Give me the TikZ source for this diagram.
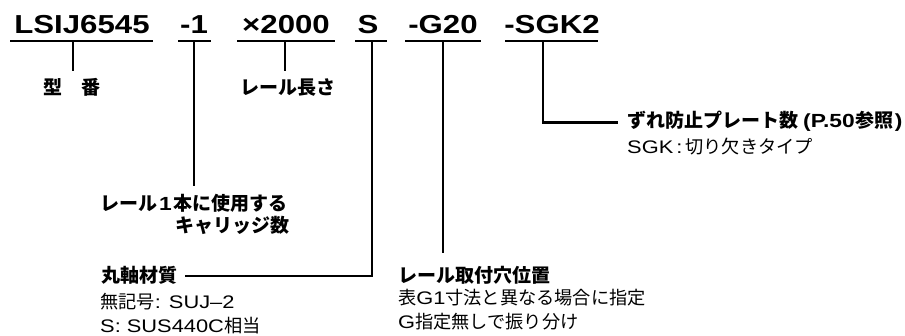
\documentclass[tikz,border=0pt]{standalone}
\usepackage{fontspec}
\setmainfont{Liberation Sans}
\newfontfamily\topfont[FakeStretch=1.2]{Liberation Sans Bold}
\newfontfamily\wide[FakeStretch=1.2]{Liberation Sans}
\newfontfamily\jp{Noto Sans CJK JP}
\newcommand{\wl}[1]{{\wide #1}}
\begin{document}
\begin{tikzpicture}[x=1pt,y=-1pt,
  code/.style={inner sep=0pt,anchor=base,font=\topfont\fontsize{26}{26}\selectfont},
  head/.style={inner sep=0pt,font=\jp\bfseries\fontsize{19}{19}\selectfont},
  desc/.style={inner sep=0pt,font=\jp\fontsize{18.2}{18.2}\selectfont},
  lead/.style={line width=2.6pt,line cap=butt},
  uline/.style={line width=2.6pt}]
\useasboundingbox (0,0) rectangle (905,336);
% top code
\node[code] (c1) at (82,34) {LSIJ6545};
\node[code] (c2) at (194,34) {-1};
\node[code] (c3) at (286,34) {×2000};
\node[code] (c4) at (368,34) {S};
\node[code] (c5) at (443,34) {-G20};
\node[code] (c6) at (552,34) {-SGK2};
% underlines
\coordinate (u1a) at (10,41); \coordinate (u1b) at (153,41);
\coordinate (u2a) at (178,41); \coordinate (u2b) at (211,41);
\coordinate (u3a) at (237,41); \coordinate (u3b) at (335,41);
\coordinate (u4a) at (355,41); \coordinate (u4b) at (387,41);
\coordinate (u5a) at (405,41); \coordinate (u5b) at (481,41);
\coordinate (u6a) at (505,41); \coordinate (u6b) at (598,41);
\foreach \i in {1,...,6} {\draw[uline] (u\i a) -- (u\i b);}
% labels
\node[head,anchor=base west] (l1) at (43,95) {型　番};
\node[head,anchor=base west] (l3) at (240,95) {レール長さ};
\node[head,anchor=base west] (l2a) at (100,211) {レール\kern2pt\wl{1}\kern2pt 本に使用する};
\node[head,anchor=base east] (l2b) at (290,233) {キャリッジ数};
\node[head,anchor=base west] (l4) at (101,283) {丸軸材質};
\node[desc,anchor=base west] (l4a) at (100,309) {無記号\wl{: SUJ–2}};
\node[desc,anchor=base west] (l4b) at (100,333) {\wl{S: SUS440C}相当};
\node[head,anchor=base west] (l5) at (398,283) {レール取付穴位置};
\node[desc,anchor=base west] (l5a) at (398,305) {表\wl{G1}寸法と異なる場合に指定};
\node[desc,anchor=base west] (l5b) at (398,329) {\wl{G}指定無しで振り分け};
\node[head,anchor=base west] (l6) at (627,128) {ずれ防止プレート数\kern5pt\wl{(P.50}\kern1pt 参照\kern1pt\wl{)}};
\node[desc,anchor=base west] (l6a) at (627,154) {\wl{SGK\,:\,}切り欠きタイプ};
% leaders
\draw[lead] (73,41) -- (73,71);
\draw[lead] (194,41) -- (194,186);
\draw[lead] (285,41) -- (285,71);
\draw[lead] (372,41) -- (372,276) -- (185,276);
\draw[lead] (443,41) -- (443,253);
\draw[lead] (543,41) -- (543,122.5) -- (618,122.5);
\end{tikzpicture}
\end{document}
